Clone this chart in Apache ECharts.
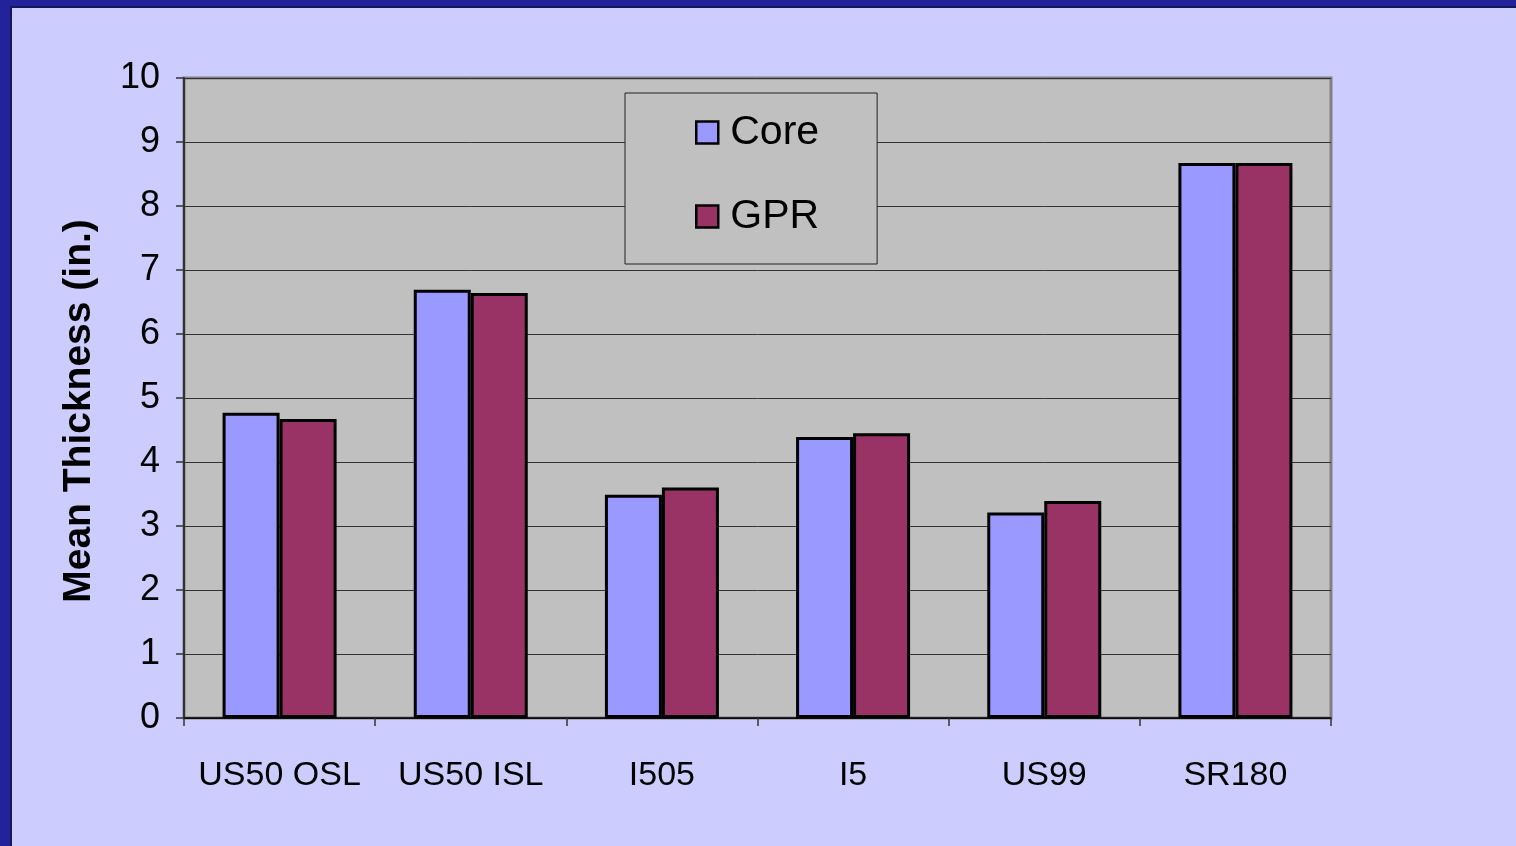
<!DOCTYPE html>
<html>
<head>
<meta charset="utf-8">
<style>
html,body{margin:0;padding:0;background:#ccccff;}
#chart{width:1516px;height:846px;}
</style>
<script src="https://cdn.jsdelivr.net/npm/echarts@6/dist/echarts.min.js"></script>
</head>
<body>
<div id="chart"></div>
<script>
const categories = ['US50 OSL', 'US50 ISL', 'I505', 'I5', 'US99', 'SR180'];
const coreValues = [4.77, 6.69, 3.49, 4.39, 3.21, 8.67];
const gprValues  = [4.67, 6.64, 3.60, 4.45, 3.39, 8.67];
const seriesNames = ['Core', 'GPR'];
const yTitle = 'Mean Thickness (in.)';

const FONT = "'Liberation Sans', Arial, sans-serif";
const chart = echarts.init(document.getElementById('chart'), null, {renderer: 'canvas'});
chart.setOption({
  backgroundColor: '#ccccff',
  animation: false,
  graphic: [
    {type: 'rect', left: 0, top: 0, shape: {width: 10, height: 846}, style: {fill: '#22229a'}, z: 100},
    {type: 'rect', left: 0, top: 0, shape: {width: 1516, height: 6}, style: {fill: '#22229a'}, z: 100},
    {type: 'rect', left: 10, top: 6, shape: {width: 2, height: 840}, style: {fill: '#151560'}, z: 100},
    {type: 'rect', left: 10, top: 6, shape: {width: 1506, height: 2}, style: {fill: '#151560'}, z: 100}
  ],
  grid: {
    left: 184, top: 78, width: 1147, height: 640,
    show: true, backgroundColor: '#c0c0c0', borderColor: '#808080', borderWidth: 3
  },
  legend: {
    orient: 'vertical',
    left: 625, top: 93,
    data: seriesNames,
    backgroundColor: '#c0c0c0',
    borderColor: '#222',
    borderWidth: 1,
    padding: [19, 58, 27, 70],
    itemGap: 43,
    itemWidth: 22, itemHeight: 22,
    icon: 'rect',
    itemStyle: {borderColor: '#000', borderWidth: 2.5},
    textStyle: {fontFamily: FONT, fontSize: 41, color: '#000', padding: [0, 0, 0, 7]}
  },
  xAxis: {
    type: 'category',
    data: categories,
    axisLine: {lineStyle: {color: '#000', width: 1.5}},
    axisTick: {show: true, interval: 0, length: 8, lineStyle: {color: '#333', width: 1.5}},
    axisLabel: {interval: 0, fontFamily: FONT, fontSize: 34, color: '#000', margin: 41}
  },
  yAxis: {
    type: 'value',
    min: 0, max: 10, interval: 1,
    name: yTitle,
    nameLocation: 'middle',
    nameGap: 85,
    nameTextStyle: {fontFamily: FONT, fontWeight: 'bold', fontSize: 39, color: '#000', padding: [0, 26, 0, 0]},
    axisLine: {show: true, lineStyle: {color: '#333', width: 2}},
    axisTick: {show: true, length: 8, lineStyle: {color: '#333', width: 1.5}},
    axisLabel: {fontFamily: FONT, fontSize: 36, color: '#000', margin: 24},
    splitLine: {lineStyle: {color: '#333', width: 1}}
  },
  series: [
    {
      name: seriesNames[0], type: 'bar', data: coreValues,
      barWidth: 57, barGap: '0%',
      itemStyle: {color: '#9999ff', borderColor: '#000', borderWidth: 3}
    },
    {
      name: seriesNames[1], type: 'bar', data: gprValues,
      barWidth: 57, barGap: '0%',
      itemStyle: {color: '#993366', borderColor: '#000', borderWidth: 3}
    }
  ]
});
</script>
</body>
</html>
